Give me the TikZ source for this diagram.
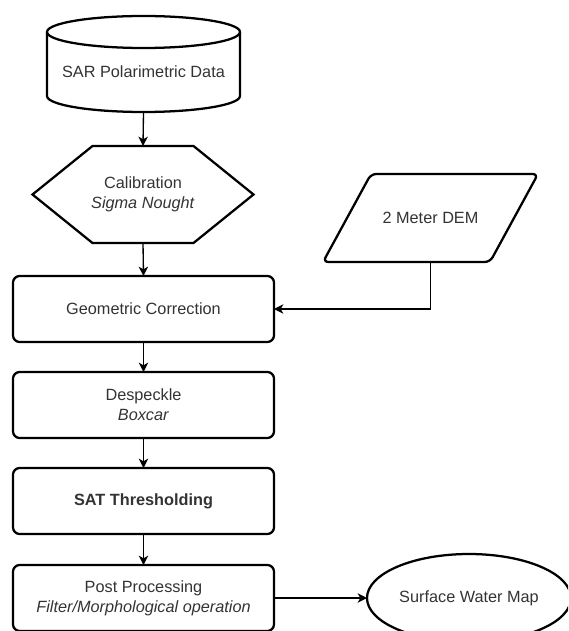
\documentclass[tikz,border=0pt]{standalone}
\usepackage{fontspec}
\setmainfont{Liberation Sans}
\usetikzlibrary{arrows.meta,calc,shapes.geometric}
\definecolor{txt}{HTML}{333333}
\begin{document}
\begin{tikzpicture}[x=0.75pt,y=-0.75pt,
  font=\fontsize{12.2}{15}\selectfont, text=txt,
  shp/.style={draw=black, line width=1.7pt},
  anchorbox/.style={inner sep=0pt, outer sep=0pt, align=center},
  procbox/.style={shp, rounded corners=5pt, minimum width=195.75pt, minimum height=49.5pt, inner sep=0pt, outer sep=0pt, align=center},
  arr/.style={draw=black, line width=1pt, -{Stealth[length=7pt,width=7pt,inset=2pt]}}
]
\useasboundingbox (0,0) rectangle (568,631);
\clip (0,0) rectangle (568,631);

% SAR cylinder
\node[anchorbox, minimum width=144.75pt, minimum height=60pt] (sar) at (143.5,72) {SAR Polarimetric Data};
\draw[shp] (sar.north) ellipse[x radius=96.5, y radius=16];
\draw[shp] (sar.north west) -- ($(sar.south west)+(0,-16)$) arc[start angle=180, end angle=0, x radius=96.5, y radius=16] -- (sar.north east);

% Calibration hexagon
\node[anchorbox, minimum width=165.75pt, minimum height=72.75pt] (cal) at (143,194.5) {Calibration\\\textit{Sigma Nought}};
\draw[shp, line join=miter] (cal.west) -- ($(cal.north west)+(60,0)$) -- ($(cal.north east)+(-60,0)$) -- (cal.east) -- ($(cal.south east)+(-60,0)$) -- ($(cal.south west)+(60,0)$) -- cycle;

% DEM parallelogram
\node[anchorbox, minimum width=161.25pt, minimum height=66pt] (dem) at (430.5,218) {2 Meter DEM};
\draw[shp, rounded corners=4pt] ($(dem.north west)+(48,0)$) -- (dem.north east) -- ($(dem.south east)+(-48,0)$) -- (dem.south west) -- cycle;

% process boxes
\node[procbox] (geo) at (143.5,309) {Geometric Correction};
\node[procbox] (desp) at (143.5,405) {Despeckle\\\textit{Boxcar}};
\node[procbox] (sat) at (143.5,501) {\textbf{SAT Thresholding}};
\node[procbox] (post) at (143.5,598) {Post Processing\\\textit{Filter/Morphological operation}};
\node[shp, ellipse, minimum width=153pt, minimum height=66pt, inner sep=0pt, outer sep=0pt] (swm) at (469,598) {Surface Water Map};

% connectors
\draw[arr] (sar.south) -- (cal.north);
\draw[arr] (cal.south) -- (geo.north);
\draw[arr] (dem.south) |- (geo.east);
\draw[arr] (geo.south) -- (desp.north);
\draw[arr] (desp.south) -- (sat.north);
\draw[arr] (sat.south) -- (post.north);
\draw[arr] (post.east) -- (swm.west);
\end{tikzpicture}
\end{document}
